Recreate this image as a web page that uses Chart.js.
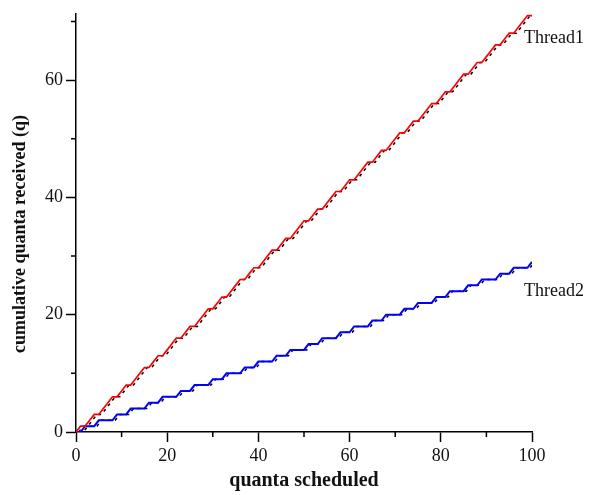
<!DOCTYPE html>
<html>
<head>
<meta charset="utf-8">
<script src="https://cdn.jsdelivr.net/npm/chart.js@4.4.0/dist/chart.umd.min.js"></script>
<style>
  html, body { margin: 0; padding: 0; background: #fff; }
  #wrap { width: 589px; height: 495px; position: relative; }
</style>
</head>
<body>
<div id="wrap"><canvas id="c"></canvas></div>
<script>
// Quanta scheduled so far (x axis)
const quanta = [0,1,2,3,4,5,6,7,8,9,10,11,12,13,14,15,16,17,18,19,20,21,22,23,24,25,26,27,28,29,30,31,32,33,34,35,36,37,38,39,40,41,42,43,44,45,46,47,48,49,50,51,52,53,54,55,56,57,58,59,60,61,62,63,64,65,66,67,68,69,70,71,72,73,74,75,76,77,78,79,80,81,82,83,84,85,86,87,88,89,90,91,92,93,94,95,96,97,98,99,100];

// Sample points of the reference run (dashed), taken a little after each quantum
const refQuanta = [0.6,1.6,2.6,3.6,4.6,5.6,6.6,7.6,8.6,9.6,10.6,11.6,12.6,13.6,14.6,15.6,16.6,17.6,18.6,19.6,20.6,21.6,22.6,23.6,24.6,25.6,26.6,27.6,28.6,29.6,30.6,31.6,32.6,33.6,34.6,35.6,36.6,37.6,38.6,39.6,40.6,41.6,42.6,43.6,44.6,45.6,46.6,47.6,48.6,49.6,50.6,51.6,52.6,53.6,54.6,55.6,56.6,57.6,58.6,59.6,60.6,61.6,62.6,63.6,64.6,65.6,66.6,67.6,68.6,69.6,70.6,71.6,72.6,73.6,74.6,75.6,76.6,77.6,78.6,79.6,80.6,81.6,82.6,83.6,84.6,85.6,86.6,87.6,88.6,89.6,90.6,91.6,92.6,93.6,94.6,95.6,96.6,97.6,98.6,99.6,100.6];

// Cumulative quanta received by each thread
const thread1 = [0,1,1,2,3,3,4,5,6,6, 7,8,8,9,10,11,11,12,13,13, 14,15,16,16,17,18,18,19,20,21, 21,22,23,23,24,25,26,26,27,28, 28,29,30,31,31,32,33,33,34,35, 36,36,37,38,38,39,40,41,41,42, 43,43,44,45,46,46,47,48,48,49, 50,51,51,52,53,53,54,55,56,56, 57,58,58,59,60,61,61,62,63,63, 64,65,66,66,67,68,68,69,70,71, 71];
const thread2 = [0,0,1,1,1,2,2,2,2,3, 3,3,4,4,4,4,5,5,5,6, 6,6,6,7,7,7,8,8,8,8, 9,9,9,10,10,10,10,11,11,11, 12,12,12,12,13,13,13,14,14,14, 14,15,15,15,16,16,16,16,17,17, 17,18,18,18,18,19,19,19,20,20, 20,20,21,21,21,22,22,22,22,23, 23,23,24,24,24,24,25,25,25,26, 26,26,26,27,27,27,28,28,28,28, 29];

const threadNames = ['Thread1', 'Thread2'];
const threadLabelY = [67.2, 24];
const xTitle = 'quanta scheduled';
const yTitle = 'cumulative quanta received (q)';

const SERIF = '"Liberation Serif", "Times New Roman", Times, serif';

function toPoints(xs, ys) {
  return xs.map((q, i) => ({ x: q, y: ys[i] }));
}

// Short minor ticks at odd multiples of ten, plus axis titles and thread labels
const decorations = {
  id: 'decorations',
  afterDraw(chart) {
    const { ctx, chartArea, scales } = chart;
    const xs = scales.x, ys = scales.y;
    ctx.save();
    ctx.strokeStyle = '#000';
    ctx.lineWidth = 1.5;
    ctx.beginPath();
    for (let v = 10; v <= 90; v += 20) {
      const px = xs.getPixelForValue(v);
      ctx.moveTo(px, chartArea.bottom);
      ctx.lineTo(px, chartArea.bottom + 5);
    }
    for (let v = 10; v <= 70; v += 20) {
      const py = ys.getPixelForValue(v);
      ctx.moveTo(chartArea.left, py);
      ctx.lineTo(chartArea.left - 5, py);
    }
    ctx.stroke();

    ctx.fillStyle = '#111';
    ctx.textAlign = 'center';
    ctx.textBaseline = 'middle';
    ctx.font = 'bold 20px ' + SERIF;
    ctx.fillText(xTitle, (chartArea.left + chartArea.right) / 2, 481);

    ctx.save();
    ctx.translate(20, 234);
    ctx.rotate(-Math.PI / 2);
    ctx.font = 'bold 18px ' + SERIF;
    ctx.fillText(yTitle, 0, 0);
    ctx.restore();

    ctx.font = '18px ' + SERIF;
    ctx.textAlign = 'left';
    threadNames.forEach((name, i) => {
      ctx.fillText(name, xs.getPixelForValue(100) - 8, ys.getPixelForValue(threadLabelY[i]));
    });
    ctx.restore();
  }
};

const majorOnly = v => (v % 20 === 0 ? String(v) : '');
const majorTickColor = c => (c.tick && c.tick.value % 20 === 0 ? '#000' : 'rgba(0,0,0,0)');

new Chart(document.getElementById('c'), {
  type: 'line',
  data: {
    datasets: [
      { label: threadNames[0] + ' ref', data: toPoints(refQuanta, thread1), borderColor: '#000', borderWidth: 1.5, borderDash: [3, 4], pointRadius: 0, tension: 0, order: 3 },
      { label: threadNames[1] + ' ref', data: toPoints(refQuanta, thread2), borderColor: '#000', borderWidth: 1.5, borderDash: [3, 4], pointRadius: 0, tension: 0, order: 3 },
      { label: threadNames[0], data: toPoints(quanta, thread1), borderColor: '#ff0000', borderWidth: 1.7, pointRadius: 0, tension: 0, order: 1 },
      { label: threadNames[1], data: toPoints(quanta, thread2), borderColor: '#0000ff', borderWidth: 2, pointRadius: 0, tension: 0, order: 1 }
    ]
  },
  options: {
    responsive: true,
    maintainAspectRatio: false,
    animation: false,
    layout: { padding: { top: 10, right: 57, left: 0, bottom: 0 } },
    plugins: { legend: { display: false }, tooltip: { enabled: false } },
    scales: {
      x: {
        type: 'linear', min: 0, max: 100,
        afterFit(s) { s.height = 63; },
        border: { display: true, color: '#000', width: 1.5 },
        grid: { drawOnChartArea: false, drawTicks: true, tickLength: 10, tickColor: majorTickColor, tickWidth: 1.5 },
        ticks: { stepSize: 10, includeBounds: false, maxRotation: 0, autoSkip: false, padding: 3, color: '#111', font: { family: SERIF, size: 18 }, callback: majorOnly }
      },
      y: {
        type: 'linear', min: 0, max: 71.3,
        afterFit(s) { s.width = 76; },
        border: { display: true, color: '#000', width: 1.5 },
        grid: { drawOnChartArea: false, drawTicks: true, tickLength: 10, tickColor: majorTickColor, tickWidth: 1.5 },
        ticks: { stepSize: 10, includeBounds: false, autoSkip: false, padding: 3, color: '#111', font: { family: SERIF, size: 18 }, callback: majorOnly }
      }
    }
  },
  plugins: [decorations]
});
</script>
</body>
</html>
